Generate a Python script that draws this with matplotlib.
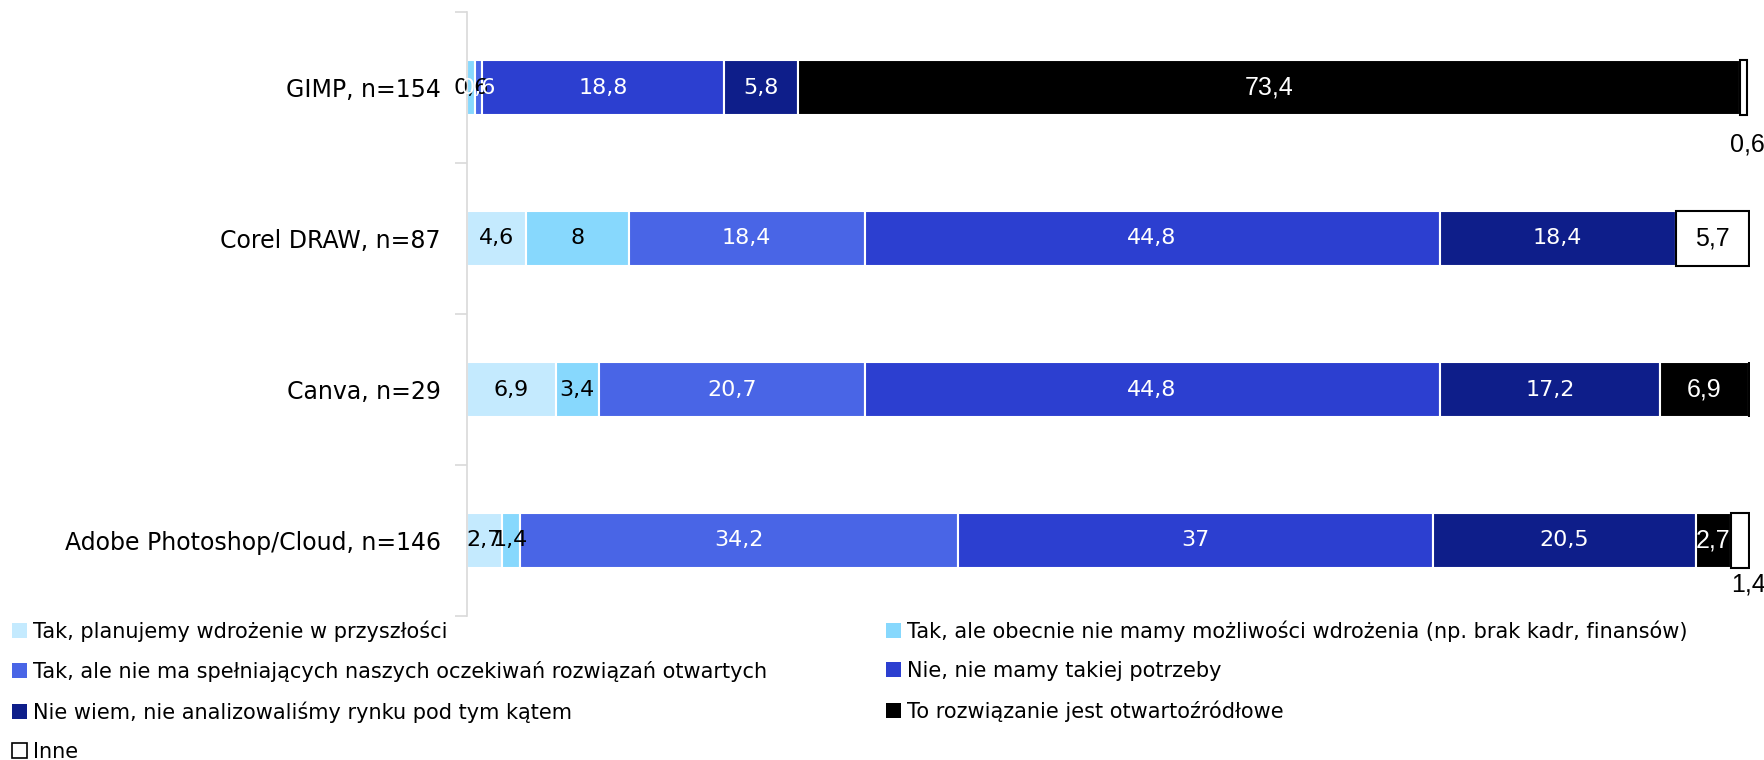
import matplotlib
matplotlib.use("Agg")
import matplotlib.pyplot as plt
from matplotlib.patches import Patch
import numpy as np

plt.rcParams['font.family'] = ['DejaVu Sans']

categories = ["GIMP, n=154", "Corel DRAW, n=87", "Canva, n=29", "Adobe Photoshop/Cloud, n=146"]
series_names = [
    "Tak, planujemy wdrożenie w przyszłości",
    "Tak, ale obecnie nie mamy możliwości wdrożenia (np. brak kadr, finansów)",
    "Tak, ale nie ma spełniających naszych oczekiwań rozwiązań otwartych",
    "Nie, nie mamy takiej potrzeby",
    "Nie wiem, nie analizowaliśmy rynku pod tym kątem",
    "To rozwiązanie jest otwartoźródłowe",
    "Inne",
]
values = {
    "Tak, planujemy wdrożenie w przyszłości": [0, 4.6, 6.9, 2.7],
    "Tak, ale obecnie nie mamy możliwości wdrożenia (np. brak kadr, finansów)": [0.6, 8, 3.4, 1.4],
    "Tak, ale nie ma spełniających naszych oczekiwań rozwiązań otwartych": [0.6, 18.4, 20.7, 34.2],
    "Nie, nie mamy takiej potrzeby": [18.8, 44.8, 44.8, 37],
    "Nie wiem, nie analizowaliśmy rynku pod tym kątem": [5.8, 18.4, 17.2, 20.5],
    "To rozwiązanie jest otwartoźródłowe": [73.4, 0, 6.9, 2.7],
    "Inne": [0.6, 5.7, 0, 1.4],
}
colors = ["#C4EAFE", "#87D8FD", "#4965E6", "#2C3FD0", "#0E1E8A", "#000000", "#FFFFFF"]
text_colors = ["black", "black", "white", "white", "white", "white", "black"]

fig = plt.figure(figsize=(17.65, 7.6), dpi=100)
ax = fig.add_axes([467/1765, 1-616/760, (1750-467)/1765, (616-12)/760])

y = np.arange(len(categories))
left = np.zeros(len(categories))
handles = []
for i, name in enumerate(series_names):
    vals = np.array(values[name], dtype=float)
    if name == "Inne":
        ec, lw = "black", 1.5
    else:
        ec, lw = "white", 1.5
    ax.barh(y, vals, left=left, height=0.36, color=colors[i],
            edgecolor=ec, linewidth=lw)
    arial = name in ("To rozwiązanie jest otwartoźródłowe", "Inne")
    fam = ["Liberation Sans"] if arial else ["DejaVu Sans"]
    fs = 18 if arial else 16
    for j, v in enumerate(vals):
        if v <= 0:
            continue
        cx = left[j] + v / 2
        lab = ("%g" % v).replace(".", ",")
        if name == "Inne" and v < 2:
            off = 0.38 if j == 0 else 0.29
            ax.text(left[j] + v, y[j] + off, lab, ha="center", va="center",
                    fontsize=fs, family=fam, color="black")
        else:
            ax.text(cx, y[j], lab, ha="center", va="center", fontsize=fs,
                    family=fam, color=text_colors[i])
    left += vals
    handles.append(Patch(facecolor=colors[i],
                         edgecolor="black" if name == "Inne" else colors[i],
                         linewidth=1.2 if name == "Inne" else 0))

ax.set_xlim(0, 100)
ax.set_ylim(len(categories) - 0.5, -0.5)
ax.set_yticks(y)
ax.set_yticklabels(categories, fontsize=17)
ax.set_yticks(np.arange(-0.5, len(categories)), minor=True)
ax.tick_params(axis="y", which="major", length=0, pad=19)
ax.tick_params(axis="y", which="minor", length=9, color="#D9D9D9", width=1.2)
ax.set_xticks([])
for s in ["top", "right", "bottom"]:
    ax.spines[s].set_visible(False)
ax.spines["left"].set_color("#D9D9D9")
ax.spines["left"].set_linewidth(1.2)

order = [0, 2, 4, 6, 1, 3, 5]
leg_fs = 15
def make_legend(cs):
    return fig.legend([handles[k] for k in order], [series_names[k] for k in order],
                      loc="upper left", bbox_to_anchor=(4/1765, 1-612/760), ncol=2,
                      frameon=False, fontsize=leg_fs, handlelength=0.7, handleheight=0.7,
                      handletextpad=0.3, labelspacing=0.92, columnspacing=cs,
                      borderaxespad=0)

cs = 5.0
leg = make_legend(cs)
fig.canvas.draw()
r = fig.canvas.get_renderer()
patches = leg.get_patches()
x2 = patches[4].get_window_extent(r).x0
target = 886
cs += (target - x2) / (leg_fs * 100 / 72)
leg.remove()
leg = make_legend(cs)

fig.savefig("out.png", dpi=100)
